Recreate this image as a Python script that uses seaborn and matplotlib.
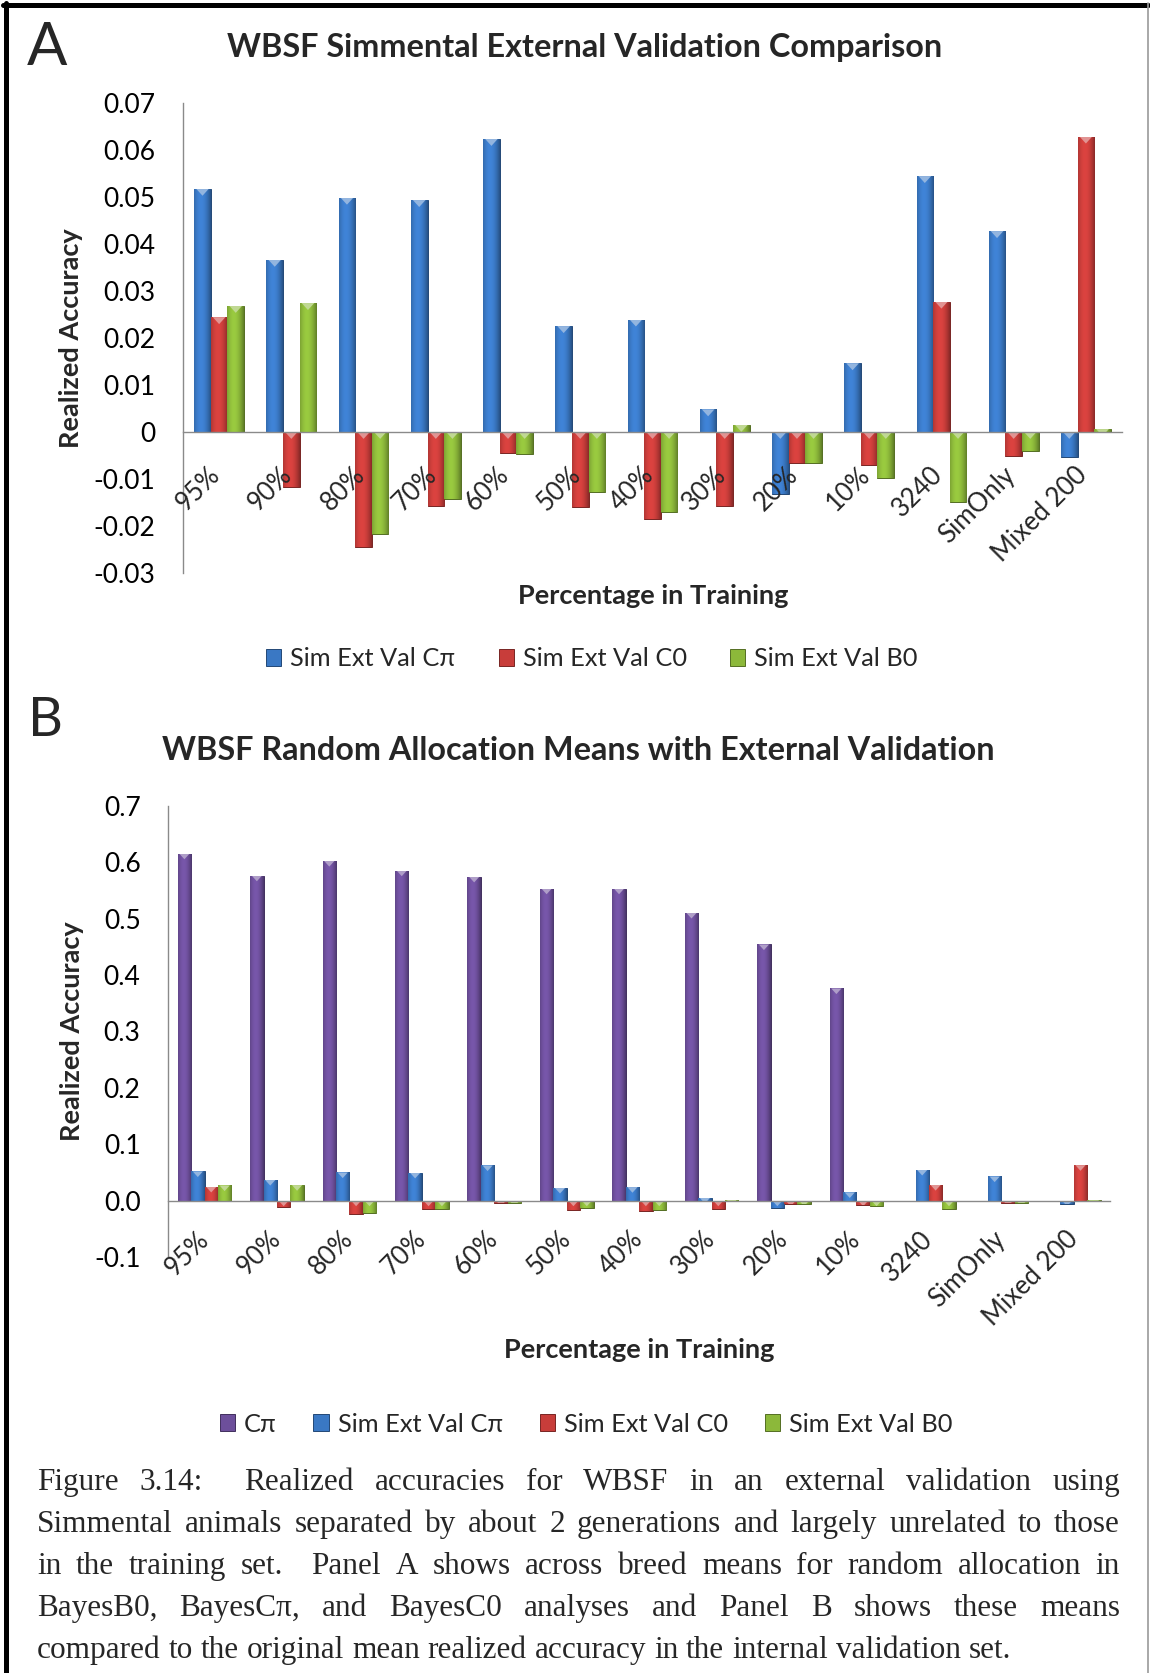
import numpy as np
import pandas as pd
import matplotlib
matplotlib.use("Agg")
import matplotlib.pyplot as plt
import matplotlib.transforms as mtransforms
import seaborn as sns
from matplotlib.patches import Patch, Polygon
from matplotlib.lines import Line2D
from matplotlib.colors import to_rgb

# ---------------------------------------------------------------- data
categories = ["95%", "90%", "80%", "70%", "60%", "50%", "40%", "30%",
              "20%", "10%", "3240", "SimOnly", "Mixed 200"]

sim_ext_cpi = [0.0517, 0.0366, 0.0498, 0.0493, 0.0623, 0.0225, 0.0239,
               0.0048, -0.0133, 0.0146, 0.0544, 0.0427, -0.0054]
sim_ext_c0 = [0.0244, -0.0118, -0.0244, -0.0157, -0.0044, -0.0159, -0.0185,
              -0.0157, -0.0067, -0.0070, 0.0277, -0.0051, 0.0628]
sim_ext_b0 = [0.0268, 0.0274, -0.0217, -0.0143, -0.0047, -0.0127, -0.0171,
              0.0015, -0.0067, -0.0099, -0.0150, -0.0040, 0.0006]
# internal validation mean (no value for the last three training sets)
internal_cpi = [0.615, 0.576, 0.602, 0.585, 0.574, 0.553, 0.553, 0.510,
                0.454, 0.376, np.nan, np.nan, np.nan]

series_a = ["Sim Ext Val C\u03c0", "Sim Ext Val C0", "Sim Ext Val B0"]
series_b = ["C\u03c0"] + series_a
palette = {"C\u03c0": "#6d4f9b", "Sim Ext Val C\u03c0": "#3a78c4",
           "Sim Ext Val C0": "#c83d3a", "Sim Ext Val B0": "#8cb83a"}

caption_lines = [
    "Figure 3.14:  Realized accuracies for WBSF in an external validation using",
    "Simmental animals separated by about 2 generations and largely unrelated to those",
    "in the training set.  Panel A shows across breed means for random allocation in",
    "BayesB0, BayesC\u03c0, and BayesC0 analyses and Panel B shows these means",
    "compared to the original mean realized accuracy in the internal validation set.",
]


def long_frame(columns):
    frames = []
    for name, values in columns.items():
        frames.append(pd.DataFrame({"cat": categories, "series": name, "value": values}))
    df = pd.concat(frames, ignore_index=True)
    return df.dropna(subset=["value"])


df_a = long_frame({series_a[0]: sim_ext_cpi, series_a[1]: sim_ext_c0,
                   series_a[2]: sim_ext_b0})
df_b = long_frame({series_b[0]: internal_cpi, series_b[1]: sim_ext_cpi,
                   series_b[2]: sim_ext_c0, series_b[3]: sim_ext_b0})

# ---------------------------------------------------------------- style
sns.set_style("white")
plt.rcParams["font.family"] = ["Lato", "DejaVu Sans"]
GRAY = "#8a8a8a"

W, H = 1150, 1673
fig = plt.figure(figsize=(W / 100, H / 100), dpi=100)


def fx(x):
    return x / W


def fy(y):
    return 1 - y / H


def axes_box(left, top, right, bottom):
    return [fx(left), fy(bottom), fx(right) - fx(left), fy(top) - fy(bottom)]


def shade_bars(ax):
    """Give each bar a cylindrical shading and a bevel at its top edge."""
    t = np.linspace(0, 1, 64)
    shade = 0.68 + 0.42 * np.sin(np.pi * (0.15 + 0.85 * t)) ** 0.9
    p0 = ax.transData.transform((0, 0))
    p1 = ax.transData.transform((1, 1))
    sx, sy = p1[0] - p0[0], p1[1] - p0[1]
    for bar in list(ax.patches):
        h = bar.get_height()
        w = bar.get_width()
        if not np.isfinite(h) or w == 0 or h == 0:
            continue
        x0, y0 = bar.get_x(), bar.get_y()
        base = np.array(to_rgb(bar.get_facecolor()))
        bar.set_edgecolor(tuple(base * 0.6))
        bar.set_linewidth(0.7)
        rgb = np.clip(base[None, :] * shade[:, None], 0, 1)
        lo, hi = min(y0, y0 + h), max(y0, y0 + h)
        im = ax.imshow(rgb[None, :, :], extent=(x0, x0 + w, lo, hi),
                       aspect="auto", interpolation="bilinear",
                       zorder=bar.get_zorder() + 0.1)
        im.set_clip_path(bar)
        dy = 0.42 * w * sx / sy
        light = np.clip(base + (1 - base) * 0.45, 0, 1)
        tri = Polygon([(x0 + 0.12 * w, hi), (x0 + 0.88 * w, hi),
                       (x0 + 0.5 * w, hi - dy)], closed=True,
                      facecolor=light, edgecolor="none",
                      zorder=bar.get_zorder() + 0.2)
        ax.add_patch(tri)
        tri.set_clip_path(bar)


def style_axes(ax, ylim, yticks, ylabels, label_pad_px, label_dx_px):
    n = len(categories)
    ax.set_xlim(-0.5, n - 0.5)
    ax.set_ylim(*ylim)
    ax.set_xlabel("")
    ax.set_ylabel("")
    for side in ("top", "right"):
        ax.spines[side].set_visible(False)
    ax.spines["left"].set_color(GRAY)
    ax.spines["bottom"].set_color(GRAY)
    ax.spines["left"].set_linewidth(1.0)
    ax.spines["bottom"].set_linewidth(1.0)
    ax.spines["bottom"].set_position(("data", 0))
    ax.set_yticks(yticks)
    ax.set_yticklabels(ylabels)
    ax.tick_params(axis="y", direction="out", length=7, width=1.0,
                   color=GRAY, pad=13, labelsize=19, labelcolor="black")
    ax.set_xticks(np.arange(-0.5, n, 1.0))
    ax.set_xticklabels([])
    ax.set_xticks(np.arange(n), minor=True)
    ax.set_xticklabels(categories, minor=True, rotation=45,
                       ha="right", va="top")
    ax.tick_params(axis="x", which="major", direction="out", length=7.5,
                   width=1.0, color=GRAY)
    ax.tick_params(axis="x", which="minor", length=0,
                   pad=label_pad_px * 72 / 100, labelsize=18.5)
    offset = mtransforms.ScaledTranslation(label_dx_px / 100, 0,
                                           fig.dpi_scale_trans)
    for lab in ax.get_xticklabels(minor=True):
        lab.set_transform(lab.get_transform() + offset)
    # category labels sit on top of the bars they overlap
    ax.xaxis.set_zorder(10)
    ax.spines["bottom"].set_zorder(10)
    ax.grid(False)


# ---------------------------------------------------------------- panel A
ax_a = fig.add_axes(axes_box(183, 102.7, 1122, 573))
sns.barplot(data=df_a, x="cat", y="value", hue="series", order=categories,
            hue_order=series_a, palette=palette, width=0.69, errorbar=None,
            saturation=1, legend=False, ax=ax_a)
ticks_a = np.round(np.arange(-0.03, 0.0701, 0.01), 2)
labels_a = ["0" if abs(v) < 1e-9 else f"{v:.2f}" for v in ticks_a]
style_axes(ax_a, (-0.03, 0.07), ticks_a, labels_a, 30, 6)
shade_bars(ax_a)
ax_a.set_xlim(-0.5, len(categories) - 0.5)
ax_a.set_ylim(-0.03, 0.07)

# ---------------------------------------------------------------- panel B
ax_b = fig.add_axes(axes_box(168.3, 805.7, 1110, 1257))
sns.barplot(data=df_b, x="cat", y="value", hue="series", order=categories,
            hue_order=series_b, palette=palette, width=0.74, errorbar=None,
            saturation=1, legend=False, ax=ax_b)
ticks_b = np.round(np.arange(-0.1, 0.701, 0.1), 1)
labels_b = [f"{v:.1f}" for v in ticks_b]
style_axes(ax_b, (-0.1, 0.7), ticks_b, labels_b, 26, 9)
shade_bars(ax_b)
ax_b.set_xlim(-0.5, len(categories) - 0.5)
ax_b.set_ylim(-0.1, 0.7)

# ---------------------------------------------------------------- text
fig.text(fx(27), fy(65), "A", fontsize=43, ha="left", va="baseline")
fig.text(fx(28), fy(736), "B", fontsize=39, ha="left", va="baseline")

fig.text(fx(585), fy(48), "WBSF Simmental External Validation Comparison",
         fontsize=23.3, fontweight="bold", ha="center", va="center")
fig.text(fx(578), fy(750), "WBSF Random Allocation Means with External Validation",
         fontsize=23.3, fontweight="bold", ha="center", va="center")

for (x, y) in [(71, 338), (72, 1031)]:
    fig.text(fx(x), fy(y), "Realized Accuracy", fontsize=19.5,
             fontweight="bold", rotation=90, ha="center", va="center")
for (x, y) in [(653, 596), (639, 1350)]:
    fig.text(fx(x), fy(y), "Percentage in Training", fontsize=19.5,
             fontweight="bold", ha="center", va="center")


def legend_handles(names):
    return [Patch(facecolor=palette[n], edgecolor=tuple(np.array(to_rgb(palette[n])) * 0.6),
                  linewidth=0.7) for n in names]


leg_kw = dict(loc="center", frameon=False, fontsize=18.3, handlelength=0.6,
              handleheight=0.6, handletextpad=0.35, borderaxespad=0,
              borderpad=0)
fig.legend(legend_handles(series_a), series_a, ncol=3, columnspacing=1.7,
           bbox_to_anchor=(fx(592), fy(659)), **leg_kw)
fig.legend(legend_handles(series_b), series_b, ncol=4, columnspacing=1.45,
           bbox_to_anchor=(fx(586), fy(1424)), **leg_kw)

# ---------------------------------------------------------------- caption
renderer = fig.canvas.get_renderer()
cap_kw = dict(fontsize=22.5, family=["Liberation Serif", "DejaVu Serif"],
              va="baseline", ha="left")
x_left, x_right = 37, 1120
space_probe = fig.text(0, 0, "a a", **cap_kw)
pair_probe = fig.text(0, 0, "aa", **cap_kw)
space_w = (space_probe.get_window_extent(renderer).width
           - pair_probe.get_window_extent(renderer).width)
space_probe.remove()
pair_probe.remove()
for i, line in enumerate(caption_lines):
    baseline = 1490 + 42 * i
    tokens = line.split(" ")
    words, weights = [], []
    pending = 0
    for tok in tokens:
        if tok == "":
            pending += 1
            continue
        if words:
            weights.append(1 + pending)
        pending = 0
        words.append(tok)
    items = [fig.text(0, fy(baseline), w, **cap_kw) for w in words]
    widths = [t.get_window_extent(renderer).width for t in items]
    if i < len(caption_lines) - 1 and len(words) > 1:
        unit = (x_right - x_left - sum(widths)) / sum(weights)
    else:
        unit = space_w
    x = x_left
    for k, (t, w) in enumerate(zip(items, widths)):
        t.set_x(fx(x))
        if k < len(weights):
            x += w + unit * weights[k]

# ---------------------------------------------------------------- frame
fig.add_artist(Line2D([fx(3), fx(1148)], [fy(5), fy(5)], color="black",
                      linewidth=3.6, transform=fig.transFigure))
fig.add_artist(Line2D([fx(5.5), fx(5.5)], [fy(3), fy(H)], color="black",
                      linewidth=3.6, transform=fig.transFigure))
fig.add_artist(Line2D([fx(1148), fx(1148)], [fy(3), fy(H)], color="#9a9a9a",
                      linewidth=1.2, transform=fig.transFigure))

fig.savefig("out.png", dpi=100, facecolor="white")
